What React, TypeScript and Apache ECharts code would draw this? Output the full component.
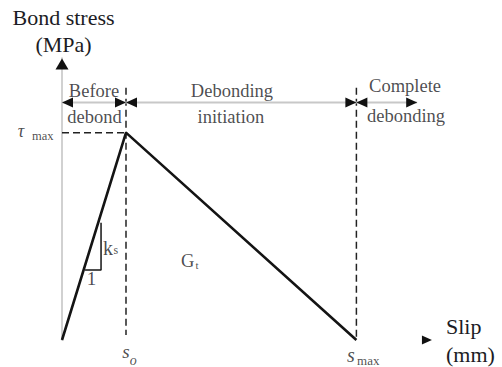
import React, { useEffect, useRef } from 'react';
import * as echarts from 'echarts';

// Bond-slip law (relative units: s_o = 1, tau_max = 1)
const slipPoints = [0, 1, 4.6];     // origin, s_o, s_max
const stressPoints = [0, 1, 0];     // 0, tau_max, 0
const sO = 1;
const sMax = 4.6;
const tauMax = 1;
const zoneEnd = 5.55;               // end of the "Complete debonding" arrow
const zoneLevel = 1.145;            // height of the zone arrow row
const dashTop = 1.217;              // top of the vertical dashed lines
const ksTriangleX = [0.36, 0.61, 0.61];
const ksTriangleY = [0.338, 0.338, 0.565];
const yArrowTip = 1.358;
const xArrowTip = 5.78;

// Annotation texts and anchors (data coordinates)
const noteTexts = ['Before', 'debond', 'Debonding', 'initiation', 'Complete', 'debonding',
  'τ', 'max', 'k', 's', '1', 'G', 't', 's', 'o', 's', 'max'];
const noteX = [0.5, 0.508, 2.656, 2.64, 5.36, 5.375,
  -0.64, -0.469, 0.64, 0.805, 0.461, 1.859, 2.085, 0.94, 1.06, 4.453, 4.61];
const noteY = [1.2, 1.075, 1.2, 1.075, 1.225, 1.08,
  1.007, 0.984, 0.446, 0.434, 0.297, 0.379, 0.364, -0.056, -0.098, -0.074, -0.1];

const FONT = 'Liberation Serif';
const TEXT = '#1c1c24';

// style per annotation: [fontSize, italic, align]
const noteStyle: [number, boolean, string][] = [
  [18.5, false, 'center'], [18.5, false, 'center'], [18.5, false, 'center'], [18.5, false, 'center'],
  [18.5, false, 'center'], [18.5, false, 'center'],
  [18, true, 'center'], [12.5, false, 'left'],
  [20, false, 'left'], [12, false, 'left'], [19, false, 'center'],
  [18.5, false, 'left'], [11, false, 'left'],
  [19, true, 'left'], [14, true, 'left'], [20, true, 'left'], [13, false, 'left'],
];

export default function App() {
  const ref = useRef<HTMLDivElement>(null);
  useEffect(() => {
    if (!ref.current) return;
    const chart = echarts.init(ref.current, null, { renderer: 'svg' });
    const dashed = { color: '#222', width: 1.5, type: [7, 4] as any };
    const arrowItems = [
      { value: [0, yArrowTip], symbolRotate: 0, symbolSize: [13, 11], symbolOffset: [0, 5.5] },
      { value: [0, zoneLevel], symbolRotate: 90, symbolSize: [10, 11], symbolOffset: [5.5, 0] },
      { value: [sO, zoneLevel], symbolRotate: -90, symbolSize: [10, 11], symbolOffset: [-5.5, 0] },
      { value: [sO, zoneLevel], symbolRotate: 90, symbolSize: [10, 11], symbolOffset: [5.5, 0] },
      { value: [sMax, zoneLevel], symbolRotate: -90, symbolSize: [10, 11], symbolOffset: [-5.5, 0] },
      { value: [sMax, zoneLevel], symbolRotate: 90, symbolSize: [10, 11], symbolOffset: [5.5, 0] },
      { value: [zoneEnd, zoneLevel], symbolRotate: -90, symbolSize: [10, 11], symbolOffset: [-5.5, 0] },
      { value: [xArrowTip, 0], symbolRotate: -90, symbolSize: [9, 10], symbolOffset: [-5, 0] },
    ];
    const noteItems = noteTexts.map((t, i) => ({
      name: t,
      value: [noteX[i], noteY[i]],
      label: {
        fontSize: noteStyle[i][0],
        fontStyle: noteStyle[i][1] ? 'italic' : 'normal',
        align: noteStyle[i][2],
      },
    }));
    chart.setOption({
      animation: false,
      grid: { left: 62, right: 56, top: 58, bottom: 27, outerBoundsMode: 'none' },
      xAxis: {
        type: 'value', min: 0, max: 6,
        axisLine: { show: false }, axisTick: { show: false }, axisLabel: { show: false },
        splitLine: { show: false },
        name: 'Slip\n(mm)', nameLocation: 'end', nameGap: 0,
        nameTextStyle: { fontFamily: FONT, fontSize: 22, color: TEXT, lineHeight: 28, align: 'left', verticalAlign: 'middle' },
      },
      yAxis: {
        type: 'value', min: 0, max: 1.36,
        axisLine: { show: true, lineStyle: { color: '#c2c2c2', width: 1.5 } },
        axisTick: { show: false }, axisLabel: { show: false }, splitLine: { show: false },
        name: 'Bond stress\n(MPa)', nameLocation: 'end', nameGap: 0,
        nameTextStyle: { fontFamily: FONT, fontSize: 22, color: TEXT, lineHeight: 27, align: 'center', verticalAlign: 'bottom', padding: [0, 0, 0, 3] },
      },
      series: [
        {
          type: 'line', symbol: 'none', z: 4,
          data: [[0, zoneLevel], [zoneEnd, zoneLevel]],
          lineStyle: { color: '#c8c8c8', width: 2 },
        },
        { type: 'line', symbol: 'none', z: 3, data: [[0, tauMax], [sO, tauMax]], lineStyle: dashed },
        { type: 'line', symbol: 'none', z: 3, data: [[sO, dashTop], [sO, 0.024]], lineStyle: dashed },
        { type: 'line', symbol: 'none', z: 3, data: [[sMax, dashTop], [sMax, 0]], lineStyle: dashed },
        {
          type: 'line', symbol: 'none', z: 5,
          data: slipPoints.map((x, i) => [x, stressPoints[i]]),
          lineStyle: { color: '#141414', width: 2.6 },
        },
        {
          type: 'line', symbol: 'none', z: 5,
          data: ksTriangleX.map((x, i) => [x, ksTriangleY[i]]),
          lineStyle: { color: '#141414', width: 1.5 },
        },
        {
          type: 'scatter', symbol: 'triangle', z: 6, clip: false,
          itemStyle: { color: '#111', opacity: 1 },
          data: arrowItems,
        },
        {
          type: 'scatter', symbol: 'circle', symbolSize: 1, z: 7, clip: false,
          itemStyle: { color: 'rgba(0,0,0,0)' },
          label: {
            show: true, position: 'inside', formatter: (p: any) => p.name,
            fontFamily: FONT, color: TEXT, verticalAlign: 'middle',
          },
          data: noteItems,
        },
      ],
    });
    return () => chart.dispose();
  }, []);
  return <div ref={ref} style={{ width: 502, height: 367, position: 'absolute', left: 0, top: 0 }} />;
}
